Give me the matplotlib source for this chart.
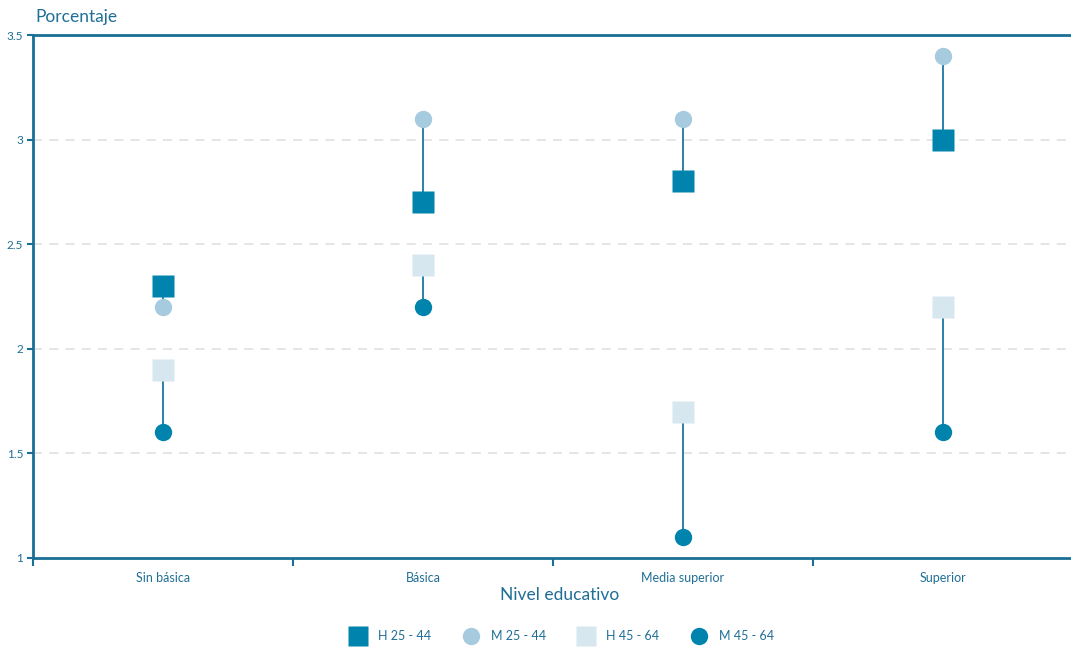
import numpy as np
import matplotlib.pyplot as plt
from matplotlib.lines import Line2D

plt.rcParams['font.family'] = ['Lato', 'DejaVu Sans']

niveles = ['Sin básica', 'Básica', 'Media superior', 'Superior']
h_25_44 = [2.3, 2.7, 2.8, 3.0]
m_25_44 = [2.2, 3.1, 3.1, 3.4]
h_45_64 = [1.9, 2.4, 1.7, 2.2]
m_45_64 = [1.6, 2.2, 1.1, 1.6]
series_labels = ['H 25 - 44', 'M 25 - 44', 'H 45 - 64', 'M 45 - 64']

c_dark = '#0083ad'
c_light = '#a6cbdf'
c_pale = '#d6e7f0'
c_axis = '#1a6f96'
c_text = '#1f6e96'
c_link = '#2a80ab'

fig = plt.figure(figsize=(10.71, 6.48), dpi=100)
ax = fig.add_axes([33 / 1071, 1 - 558 / 648, 1040 / 1071, 523 / 648])

x = np.arange(len(niveles))

# lines joining each pair
ax.vlines(x, h_25_44, m_25_44, color=c_link, lw=1.4, zorder=2)
ax.vlines(x, h_45_64, m_45_64, color=c_link, lw=1.4, zorder=2)

sq = 15.5
ci = 12.5
ax.plot(x, h_25_44, 's', ms=sq, color=c_dark, mec='none', zorder=3)
ax.plot(x, m_25_44, 'o', ms=ci, color=c_light, mec='none', zorder=3)
ax.plot(x, h_45_64, 's', ms=sq, color=c_pale, mec='none', zorder=3)
ax.plot(x, m_45_64, 'o', ms=ci, color=c_dark, mec='none', zorder=3)

ax.set_xlim(-0.5, 3.5)
ax.set_ylim(1, 3.5)

ax.set_yticks([1, 1.5, 2, 2.5, 3, 3.5])
ax.set_yticklabels(['1', '1.5', '2', '2.5', '3', '3.5'])
for yv in [1.5, 2, 2.5, 3]:
    ax.axhline(yv, color='#e3e3e3', lw=1.3, ls=(0, (5, 4)), zorder=1)

ax.set_xticks(np.arange(-0.5, 4, 1))
ax.set_xticklabels([])
ax.set_xticks(x, minor=True)
ax.set_xticklabels(niveles, minor=True)
ax.tick_params(axis='x', which='minor', length=0, pad=10, labelsize=9, labelcolor=c_text)
ax.tick_params(axis='x', which='major', length=6, width=1.5, color=c_axis, direction='out')
ax.tick_params(axis='y', length=4, width=1.5, color=c_axis, labelsize=8.5, labelcolor=c_text, pad=3)

for s in ['left', 'top', 'bottom']:
    ax.spines[s].set_color(c_axis)
    ax.spines[s].set_linewidth(2)
ax.spines['right'].set_visible(False)

fig.text(35 / 1071, 1 - 17 / 648, 'Porcentaje', color=c_text, fontsize=12.5, va='center', ha='left')
fig.text(560 / 1071, 1 - 595 / 648, 'Nivel educativo', color=c_text, fontsize=12.5, va='center', ha='center')

handles = [
    Line2D([], [], ls='none', marker='s', ms=15, color=c_dark, mec='none'),
    Line2D([], [], ls='none', marker='o', ms=12.5, color=c_light, mec='none'),
    Line2D([], [], ls='none', marker='s', ms=15, color=c_pale, mec='none'),
    Line2D([], [], ls='none', marker='o', ms=12.5, color=c_dark, mec='none'),
]
leg = fig.legend(handles, series_labels, loc='center', bbox_to_anchor=(562 / 1071, 1 - 636 / 648),
                 ncol=4, frameon=False, fontsize=9, handletextpad=1.0, columnspacing=2.6,
                 handlelength=1.2)
for t in leg.get_texts():
    t.set_color(c_text)

fig.savefig('out.png', dpi=100)
